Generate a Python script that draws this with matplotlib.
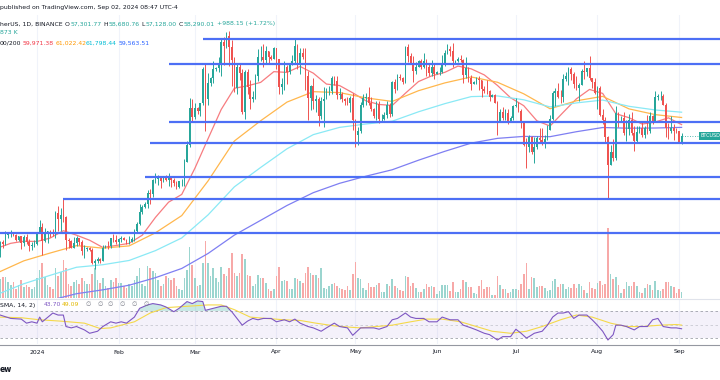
import matplotlib.pyplot as plt
import matplotlib.transforms as mtransforms
import numpy as np
import pandas as pd

# BTCUSDT daily candles, Binance, 2023-12-18 .. 2024-09-02 (prices in thousand USD)
start = pd.Timestamp('2023-12-18')
first_open = 41.4
closes = [
    42.7, 42.3, 43.7, 43.9, 44.0, 43.7, 43.0, 43.6, 42.5, 43.4,
    42.6, 42.1, 42.2, 42.3, 44.2, 44.9, 42.8, 44.2, 44.2, 44.0,
    43.9, 47.0, 46.1, 46.6, 46.4, 42.9, 42.8, 41.8, 42.5, 43.2,
    42.7, 41.3, 41.6, 41.7, 41.5, 39.5, 39.8, 40.1, 39.9, 41.8,
    42.1, 42.0, 43.3, 43.0, 42.6, 43.1, 43.2, 43.0, 42.6, 42.7,
    43.1, 44.3, 45.3, 47.1, 47.8, 48.3, 49.9, 49.7, 51.8, 51.9,
    52.1, 51.7, 52.1, 51.8, 52.3, 51.8, 51.3, 50.7, 51.6, 51.7,
    54.5, 57.0, 62.4, 61.1, 62.4, 62.0, 63.1, 68.2, 63.7, 66.1,
    66.8, 68.1, 68.3, 69.0, 72.1, 71.5, 73.1, 71.4, 69.5, 65.3,
    68.4, 67.6, 61.9, 67.8, 65.5, 63.8, 64.0, 67.2, 69.9, 70.0,
    69.5, 70.8, 69.9, 69.6, 71.3, 69.7, 65.5, 66.0, 68.5, 67.8,
    68.9, 69.4, 71.6, 69.1, 70.6, 70.0, 67.1, 63.9, 65.7, 63.4,
    63.8, 61.3, 63.5, 63.8, 64.9, 64.9, 66.8, 66.4, 64.3, 64.5,
    63.8, 63.5, 63.1, 63.9, 60.7, 58.4, 59.1, 62.9, 63.9, 64.0,
    63.2, 62.3, 61.2, 63.0, 60.8, 60.8, 61.4, 62.9, 61.6, 66.2,
    65.2, 67.0, 66.9, 66.3, 71.4, 70.1, 69.1, 67.9, 68.5, 69.3,
    68.5, 69.4, 68.4, 67.6, 68.4, 67.5, 67.7, 67.8, 68.8, 70.6,
    71.1, 70.8, 69.3, 69.3, 69.6, 69.5, 67.3, 68.3, 66.8, 66.0,
    66.2, 66.7, 66.5, 65.2, 65.0, 64.9, 64.1, 64.3, 63.2, 60.3,
    61.8, 60.9, 61.7, 60.3, 60.9, 62.7, 62.9, 62.0, 60.2, 57.0,
    56.6, 58.2, 55.9, 56.7, 58.0, 57.7, 57.3, 57.9, 59.2, 60.8,
    64.7, 65.0, 64.1, 64.0, 66.7, 67.1, 68.2, 67.5, 65.9, 65.4,
    65.8, 67.9, 67.8, 68.3, 66.8, 66.2, 64.6, 65.4, 61.4, 60.7,
    58.1, 54.0, 56.0, 55.0, 61.7, 60.9, 60.9, 58.7, 59.3, 60.6,
    58.7, 57.5, 58.9, 59.5, 58.4, 59.4, 59.0, 61.2, 60.4, 64.1,
    64.2, 64.2, 62.8, 59.4, 59.0, 59.4, 59.1, 59.0, 57.3, 58.29,
]
highs = [
    42.8, 43.0, 44.3, 44.2, 44.4, 44.0, 43.9, 43.6, 43.6, 43.7,
    43.8, 43.1, 42.6, 42.9, 44.2, 45.9, 45.5, 44.7, 44.3, 44.4,
    44.5, 47.2, 47.9, 47.7, 49.0, 46.5, 43.3, 43.0, 43.4, 43.6,
    43.2, 42.9, 42.2, 41.9, 41.9, 41.7, 40.1, 40.5, 40.3, 42.2,
    42.2, 42.8, 43.3, 43.9, 43.7, 43.3, 43.5, 43.4, 43.1, 43.5,
    43.4, 44.5, 45.6, 48.2, 48.1, 48.6, 50.3, 50.4, 52.0, 52.8,
    52.6, 52.2, 52.4, 52.5, 52.9, 52.4, 52.1, 51.6, 51.7, 51.9,
    54.9, 57.6, 63.9, 63.7, 63.2, 62.5, 63.2, 68.5, 69.0, 67.6,
    67.0, 69.4, 68.5, 70.0, 72.8, 72.9, 73.7, 73.8, 72.4, 70.0,
    68.9, 68.9, 68.1, 68.0, 68.2, 66.6, 65.0, 67.5, 71.1, 71.6,
    71.8, 71.6, 70.9, 70.3, 71.4, 71.3, 69.7, 66.9, 69.3, 68.7,
    69.0, 70.3, 72.8, 71.8, 71.2, 71.3, 71.2, 67.9, 65.8, 66.9,
    64.4, 64.1, 64.0, 65.5, 65.4, 65.7, 67.2, 67.2, 67.1, 65.3,
    64.8, 63.9, 64.0, 64.2, 64.7, 60.8, 59.6, 63.3, 64.5, 64.6,
    65.5, 64.0, 62.4, 63.4, 63.5, 61.5, 61.8, 63.5, 63.1, 66.4,
    66.7, 67.4, 67.5, 67.0, 71.5, 71.9, 70.6, 70.1, 69.2, 69.5,
    69.6, 70.6, 69.6, 68.9, 69.5, 69.0, 67.9, 68.4, 70.3, 71.0,
    71.8, 71.6, 72.0, 69.5, 70.0, 70.2, 69.6, 70.0, 68.4, 67.3,
    66.4, 67.0, 67.2, 66.6, 65.7, 66.5, 65.1, 64.5, 64.5, 63.4,
    62.3, 62.5, 62.3, 62.2, 61.2, 62.9, 63.9, 63.3, 62.3, 60.5,
    58.0, 58.5, 58.3, 58.2, 58.3, 59.5, 59.4, 58.5, 59.9, 61.4,
    64.9, 65.4, 66.1, 65.1, 67.4, 67.7, 68.4, 68.5, 67.8, 67.1,
    66.1, 68.2, 69.4, 68.3, 70.1, 66.9, 66.8, 65.6, 65.6, 62.2,
    61.1, 58.3, 57.0, 57.8, 62.7, 61.8, 61.2, 61.9, 60.7, 61.6,
    61.8, 59.8, 59.8, 59.7, 60.3, 59.7, 61.4, 61.8, 61.4, 64.9,
    64.5, 65.0, 64.5, 63.2, 60.2, 61.2, 60.0, 59.4, 59.0, 58.68,
]
lows = [
    40.5, 41.8, 42.2, 43.3, 43.4, 43.6, 42.8, 42.8, 41.6, 42.1,
    42.3, 41.3, 41.5, 41.9, 42.2, 44.2, 40.8, 42.6, 42.5, 43.4,
    43.6, 43.2, 44.3, 44.3, 45.6, 41.5, 41.7, 41.7, 41.7, 42.0,
    42.2, 40.7, 40.3, 41.4, 41.4, 39.4, 38.6, 39.5, 39.5, 39.8,
    41.7, 41.6, 41.8, 42.7, 42.3, 41.9, 42.6, 42.9, 42.3, 42.3,
    42.6, 42.8, 44.0, 45.2, 46.8, 47.6, 47.7, 48.3, 49.3, 51.3,
    51.0, 50.6, 51.5, 51.7, 50.9, 50.8, 50.9, 50.5, 50.6, 50.9,
    50.9, 54.4, 56.7, 60.4, 60.8, 61.6, 61.3, 62.8, 59.0, 62.8,
    65.7, 66.1, 67.9, 67.8, 67.2, 68.8, 71.3, 68.6, 65.6, 64.8,
    64.5, 66.6, 61.5, 60.8, 64.5, 62.3, 63.3, 63.8, 66.4, 69.3,
    68.4, 68.9, 69.1, 69.5, 69.6, 68.1, 64.5, 64.5, 65.1, 66.0,
    67.5, 68.7, 69.0, 68.2, 67.5, 69.6, 65.1, 60.7, 62.1, 62.3,
    61.8, 59.8, 60.8, 59.6, 63.8, 64.3, 64.5, 65.8, 63.8, 63.8,
    63.3, 62.8, 62.8, 61.8, 59.2, 56.6, 56.9, 58.8, 62.6, 62.9,
    62.9, 62.0, 60.9, 60.6, 60.2, 60.5, 60.6, 60.9, 61.1, 61.3,
    64.6, 65.1, 66.6, 65.9, 66.1, 69.2, 68.9, 66.3, 67.4, 68.5,
    68.1, 68.3, 67.2, 67.1, 67.1, 66.7, 67.4, 67.3, 67.6, 68.6,
    70.4, 70.1, 68.5, 69.1, 69.2, 69.2, 66.1, 66.9, 66.3, 65.1,
    65.9, 66.0, 65.1, 64.1, 64.7, 64.5, 63.4, 64.0, 63.2, 58.4,
    60.3, 60.6, 60.6, 60.1, 60.3, 60.6, 62.5, 61.8, 59.4, 56.8,
    53.5, 56.0, 55.7, 54.3, 56.3, 57.2, 57.0, 56.5, 57.7, 59.2,
    60.6, 62.7, 63.9, 63.2, 63.3, 66.4, 65.8, 66.6, 65.4, 65.1,
    63.4, 65.8, 66.7, 67.1, 66.5, 65.3, 64.5, 62.3, 61.3, 60.1,
    57.2, 49.0, 54.0, 54.6, 54.8, 59.6, 60.3, 58.4, 57.6, 58.5,
    58.4, 56.1, 57.4, 58.8, 58.2, 58.0, 58.6, 58.8, 60.0, 60.3,
    63.6, 63.6, 62.8, 58.1, 57.9, 58.8, 57.7, 58.7, 57.2, 57.13,
]
# volume, thousand BTC
volumes = [
    38, 42, 42, 32, 26, 32, 18, 26, 36, 22, 26, 22, 18, 22,
    40, 56, 70, 42, 26, 22, 18, 60, 44, 52, 76, 60, 28, 24,
    32, 36, 28, 40, 34, 28, 28, 48, 60, 36, 30, 40, 24, 20,
    36, 32, 40, 30, 30, 24, 20, 28, 24, 36, 44, 60, 28, 24,
    64, 60, 54, 50, 36, 24, 28, 44, 40, 36, 40, 24, 18,
    16, 40, 56, 102, 66, 40, 24, 26, 70, 114, 70, 44, 60, 40, 32, 62, 48, 44, 60, 90,
    50, 44, 50, 88, 78, 46, 44, 24, 28, 46, 40, 40, 30, 18, 14, 18, 44, 62, 34, 36,
    34, 18, 18, 40, 38, 34, 30, 50, 62, 50, 46, 46, 40, 60, 20, 18, 24, 28, 30, 24,
    20, 18, 16, 24, 16, 48, 72, 40,
    38, 20, 16, 30, 22, 22, 26, 30, 12, 12, 28, 24, 38, 24, 20, 16, 14, 44, 42, 24,
    30, 20, 12, 12, 18, 28, 22, 24, 22, 8, 14, 26, 26, 26, 14, 32, 12, 12, 18, 36,
    32, 22, 22, 10, 8, 24, 36, 18, 22, 22, 6, 6, 44, 26, 18, 18, 10, 12, 18, 18,
    16, 28, 48, 70, 18, 42, 40, 22, 24,
    24, 20, 14, 16, 34, 38, 22, 28, 28, 18, 22, 20, 28, 20, 28, 24, 16, 10, 32, 20,
    18, 30, 34, 26, 28, 140, 48, 38, 42, 26, 10, 18, 32, 24, 24, 32, 24, 12, 10, 20,
    28, 26, 16, 34, 16, 14, 18, 32, 32, 24, 22, 10, 18, 12,
]

# moving average ribbon (EMA 20/50/100/200)
ema20_day = [0, 4, 9, 14, 19, 24, 29, 34, 39, 44, 49, 54, 59, 64, 69, 74, 79, 84, 89, 94,
             99, 104, 109, 114, 119, 124, 129, 134, 139, 144, 149, 154, 159, 164, 169, 174,
             179, 184, 189, 194, 199, 204, 209, 214, 219, 224, 229, 234, 239, 244, 249, 254, 259]
ema20 = [41.9, 42.46, 42.77, 42.73, 43.24, 44.32, 43.66, 42.91, 41.85, 42.14, 42.45, 43.66,
         46.28, 48.53, 49.67, 53.53, 57.89, 62.2, 65.33, 65.69, 66.2, 67.78, 67.67, 68.55,
         67.56, 65.95, 65.73, 64.66, 63.48, 62.94, 62.8, 64.59, 66.32, 67.16, 67.68, 68.6,
         68.2, 67.3, 65.75, 63.93, 62.76, 60.53, 59.76, 61.78, 63.76, 65.16, 64.57, 61.58,
         60.99, 60.05, 60.35, 60.97, 59.97]
ema_day = [0, 9, 19, 29, 39, 49, 59, 69, 79, 89, 99, 109, 119, 129, 139, 149, 159, 169, 179,
           189, 199, 209, 219, 229, 239, 249, 259]
ema50 = [38.3, 39.88, 41.03, 42.12, 41.75, 42.08, 44.01, 46.55, 51.66, 57.55, 60.54, 63.29,
         64.83, 64.69, 63.91, 63.39, 64.97, 66.12, 67.0, 66.22, 64.51, 62.31, 63.48, 64.14,
         62.29, 61.44, 61.02]
ema100 = [35.1, 36.5, 37.74, 38.93, 39.3, 39.93, 41.38, 43.25, 46.65, 50.79, 53.65, 56.4,
          58.49, 59.56, 60.06, 60.47, 61.86, 63.06, 64.1, 64.2, 63.63, 62.58, 63.17, 63.59,
          62.67, 62.13, 61.8]
ema200 = [32.1, 33.07, 34.05, 35.03, 35.6, 36.28, 37.39, 38.75, 40.96, 43.67, 45.85, 48.04,
          49.93, 51.31, 52.36, 53.31, 54.72, 56.03, 57.24, 57.94, 58.23, 58.19, 58.92, 59.54,
          59.44, 59.47, 59.56]

# RSI 14 and its SMA 14
rsi_day = [0, 4, 8, 10, 12, 14, 15, 16, 20, 22, 24, 25, 27, 29, 32, 34, 37, 39, 42, 44,
           46, 48, 51, 53, 56, 58, 61, 63, 66, 68, 71, 73, 75, 77, 78, 81, 84, 86, 88, 90,
           92, 94, 96, 98, 100, 103, 105, 108, 110, 112, 114, 117, 119, 122, 124, 127, 129,
           132, 134, 137, 139, 142, 144, 147, 149, 151, 154, 156, 158, 161, 163, 166, 168,
           171, 174, 176, 179, 181, 184, 186, 189, 191, 194, 196, 198, 200, 201, 203, 206,
           208, 210, 212, 214, 216, 218, 220, 223, 225, 227, 229, 231, 233, 234, 236, 238,
           241, 243, 246, 248, 250, 252, 255, 257, 259]
rsi = [64, 59, 58, 52, 54, 52, 61, 54, 67, 64, 64, 47, 45, 47, 42, 37, 40, 47, 54, 52,
       54, 52, 61, 74, 79, 81, 79, 76, 69, 74, 84, 81, 85, 84, 71, 74, 77, 77, 69, 59,
       49, 55, 59, 57, 59, 59, 54, 57, 54, 58, 52, 47, 45, 40, 45, 52, 47, 45, 34, 45,
       45, 45, 43, 47, 57, 59, 67, 61, 59, 59, 54, 54, 61, 57, 57, 49, 45, 42, 37, 35,
       27, 32, 32, 43, 37, 30, 32, 37, 40, 49, 61, 67, 67, 69, 59, 64, 64, 57, 49, 40,
       27, 35, 49, 49, 47, 42, 47, 47, 57, 59, 47, 45, 45, 43.7]
rsi_ma_day = [0, 8, 15, 23, 32, 38, 42, 51, 57, 63, 71, 79, 84, 89, 95, 101, 108, 114, 120,
              127, 133, 137, 149, 156, 162, 168, 175, 181, 187, 194, 200, 206, 213, 219, 225,
              232, 238, 244, 251, 257, 259]
rsi_ma = [61, 60, 57, 55, 52, 44, 45, 54, 67, 75, 77, 79, 79, 72, 61, 59, 57, 56, 52, 48,
          46, 45, 49, 54, 58, 58, 54, 47, 40, 37, 40, 47, 57, 64, 61, 52, 47, 47, 49, 50, 49.09]

# horizontal levels drawn on the chart (price, first day)
level_price = [72.6, 68.9, 60.35, 57.25, 52.25, 48.97, 44.0]
level_start = [77, 64, 64, 57, 55, 24, -5]

UP, DOWN = '#26a69a', '#ef5350'

n = len(closes)
days = np.arange(n)
closes = np.array(closes)
opens = np.r_[first_open, closes[:-1]]
highs = np.array(highs)
lows = np.array(lows)
up = closes >= opens

fig = plt.figure(figsize=(7.2, 3.8), dpi=100)
fig.patch.set_facecolor('white')
H = 380.0

def frac(y0, y1):
    return [0, 1 - y1 / H, 1, (y1 - y0) / H]

ax = fig.add_axes(frac(15, 298))
ax_v = ax.twinx()
ax_r = fig.add_axes(frac(299, 344))

x_lo, x_hi = -0.08, 273.6
for a in (ax, ax_v, ax_r):
    a.set_xlim(x_lo, x_hi)
    a.set_xticks([])
    a.set_yticks([])
    for s in a.spines.values():
        s.set_visible(False)
ax.set_ylim(34.394, 76.137)
ax_v.set_ylim(0, 566)
ax_r.set_ylim(21.1, 87.8)

# put volume behind the candles
ax.set_zorder(ax_v.get_zorder() + 1)
ax.patch.set_visible(False)

# month grid
dates = start + pd.to_timedelta(days, unit='D')
month_idx = [i for i in days if dates[i].day == 1]
month_lab = ['2024' if dates[i].month == 1 else dates[i].strftime('%b') for i in month_idx]
for i in month_idx:
    ax_v.axvline(i, color='#f0f3fa', lw=0.8, zorder=0)
    ax_r.axvline(i, color='#f0f3fa', lw=0.8, zorder=0)

# volume
ax_v.bar(days, volumes, width=0.62, color=np.where(up, '#9bd5cf', '#f7a9a8'), linewidth=0)

# candles
col = np.where(up, UP, DOWN)
ax.vlines(days, lows, highs, colors=col, lw=0.7, zorder=3)
ax.bar(days, np.maximum(np.abs(closes - opens), 0.05), bottom=np.minimum(opens, closes),
       width=0.62, color=col, linewidth=0, zorder=4)

# moving averages
ax.plot(ema20_day, ema20, color='#f77c80', lw=0.9, zorder=2)
ax.plot(ema_day, ema50, color='#ffb74d', lw=0.9, zorder=2)
ax.plot(ema_day, ema100, color='#8ae9f5', lw=0.9, zorder=2)
ax.plot(ema_day, ema200, color='#7f7ff2', lw=0.9, zorder=2)

# drawn levels
ax.hlines(level_price, level_start, x_hi + 5, color='#4d6ff5', lw=1.6, zorder=5)

# last price line and label
ax.hlines(closes[-1], days[-1], x_hi, color=UP, lw=0.6, ls=(0, (1, 2)), zorder=1)
tr = mtransforms.blended_transform_factory(ax.transAxes, ax.transData)
ax.text(700.5 / 720, closes[-1], 'BTCUSD', transform=tr, fontsize=3.5, color='white',
        va='center', ha='left', zorder=6,
        bbox=dict(boxstyle='square,pad=0.4', fc=UP, ec='none'))

# RSI pane
ax_r.axhspan(30, 70, color='#7e57c2', alpha=0.08, lw=0)
for lvl, a in ((70, 0.9), (50, 0.45), (30, 0.9)):
    ax_r.axhline(lvl, color='#9598a1', lw=0.6, ls=(0, (3, 3)), alpha=a)
rsi_a = np.array(rsi, dtype=float)
ax_r.fill_between(rsi_day, rsi_a, 70, where=rsi_a > 70, interpolate=True,
                  color='#26a69a', alpha=0.25, lw=0)
ax_r.fill_between(rsi_day, rsi_a, 30, where=rsi_a < 30, interpolate=True,
                  color='#ef5350', alpha=0.25, lw=0)
ax_r.plot(rsi_ma_day, rsi_ma, color='#f5d94a', lw=0.8)
ax_r.plot(rsi_day, rsi, color='#7e57c2', lw=0.8)

# separators
fig.add_artist(plt.Line2D([0, 1], [1 - 298.5 / H] * 2, color='#e0e3eb', lw=0.8))
fig.add_artist(plt.Line2D([0, 1], [1 - 344.5 / H] * 2, color='#9598a1', lw=0.8))

# time axis labels
trb = mtransforms.blended_transform_factory(ax_r.transData, fig.transFigure)
for i, lab in zip(month_idx, month_lab):
    ax_r.text(i, 1 - 352 / H, lab, transform=trb, ha='center', va='center',
              fontsize=4.4, color='#131722', clip_on=False)

# header texts
fs = 4.4
renderer = fig.canvas.get_renderer()

def put(x, y, s, c='#131722', **kw):
    return fig.text(x / 720, 1 - y / H, s, color=c, fontsize=fs, va='center', ha='left', **kw)

def chain(x, y, parts, gap=2):
    # lay text pieces out one after another
    for s, c in parts:
        if s == '':
            x += gap
            continue
        t = put(x, y, s, c)
        x = t.get_window_extent(renderer).x1 + 0.3

put(0, 7, 'published on TradingView.com, Sep 02, 2024 08:47 UTC-4')
chain(0, 24, [('herUS, 1D, BINANCE', '#131722'), ('', None),
              ('O', '#131722'), ('57,301.77', UP), ('', None),
              ('H', '#131722'), ('58,680.76', UP), ('', None),
              ('L', '#131722'), ('57,128.00', UP), ('', None),
              ('C', '#131722'), ('58,290.01', UP), ('', None),
              ('+988.15 (+1.72%)', UP)])
put(0, 33, '873 K', UP)
put(0, 43, '00/200')
put(23, 43, '59,971.38', '#f23645')
put(56, 43, '61,022.42', '#ff9800')
put(86, 43, '61,798.44', '#00bcd4')
put(119, 43, '59,563.51', '#2962ff')
put(0, 305, 'SMA, 14, 2)')
put(44, 305, '43.70', '#7e57c2')
put(62, 305, '49.09', '#e2b800')
for xx in (85, 97, 108, 120, 132, 143):
    put(xx, 305, '\u2205', '#787b86')
fig.text(0, 1 - 370 / H, 'ew', color='#131722', fontsize=5.5, va='center', ha='left',
         fontweight='bold')

fig.savefig('out.png', dpi=100)
